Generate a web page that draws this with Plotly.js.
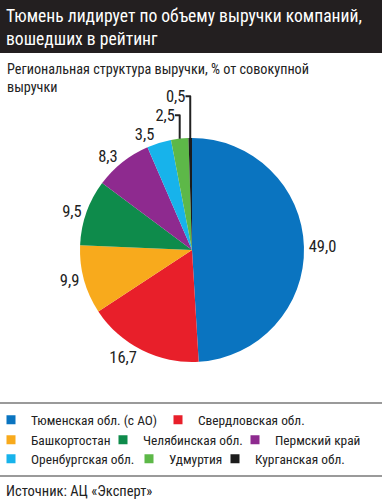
<!DOCTYPE html>
<html><head><meta charset="utf-8">
<script src="https://cdn.plot.ly/plotly-3.0.1.min.js"></script>
<style>body{margin:0;padding:0;background:#fff}#chart{width:382px;height:500px}</style>
</head><body><div id="chart"></div>
<script>
const categories = ["Тюменская обл. (с АО)", "Свердловская обл.", "Башкортостан", "Челябинская обл.", "Пермский край", "Оренбургская обл.", "Удмуртия", "Курганская обл."];
const values = [49.0, 16.7, 9.9, 9.5, 8.3, 3.5, 2.5, 0.5];
const colors = ["#0a74c0", "#e81f2a", "#f8aa1c", "#0e8b4b", "#8e2a8f", "#17b3eb", "#5db848", "#1c1c1c"];
const titleText = "Тюмень лидирует по объему выручки компаний,<br>вошедших в рейтинг";
const subtitleText = "Региональная структура выручки, % от совокупной<br>выручки";
const sourceText = "Источник: АЦ «Эксперт»";
const FONT = "Roboto Condensed";

const W = 382, H = 500;
const cx = 192, cy = 250, r = 112;

// legend entry placement (layout only): swatch centre x and row centre y, in px
const legendSymX = [9, 176, 9, 121, 253, 9, 147, 233];
const legendRowY = [420, 420, 440, 440, 440, 459, 459, 459];

const pie = {
  type: "pie",
  labels: categories,
  values: values,
  marker: {colors: colors, line: {width: 0}},
  sort: false,
  direction: "clockwise",
  rotation: 0,
  textposition: "outside",
  texttemplate: "%{value:.1f}",
  hoverinfo: "label+value",
  outsidetextfont: {family: FONT, size: 16.5, color: "#222"},
  automargin: false,
  showlegend: false,
  domain: {x: [(cx - r) / W, (cx + r) / W], y: [(H - cy - r) / H, (H - cy + r) / H]}
};

const legendKey = i => (i === 0 ? "legend" : "legend" + (i + 1));
const legendTraces = categories.map((c, i) => ({
  type: "scatter", mode: "markers", x: [null], y: [null], name: c,
  marker: {symbol: "square", size: 9, color: colors[i]},
  legend: legendKey(i), hoverinfo: "skip", showlegend: true
}));

const layout = {
  width: W, height: H,
  margin: {l: 0, r: 0, t: 0, b: 0, autoexpand: false},
  paper_bgcolor: "#fff", plot_bgcolor: "rgba(0,0,0,0)",
  separators: ",.",
  font: {family: FONT, color: "#222"},
  xaxis: {visible: false, domain: [0, 0.01]},
  yaxis: {visible: false, domain: [0, 0.01]},
  shapes: [
    {type: "rect", xref: "paper", yref: "paper", x0: 0, x1: 1, y0: 1 - 53 / H, y1: 1, fillcolor: "#231f20", line: {width: 0}, layer: "below"},
    {type: "line", xref: "paper", yref: "paper", x0: 0, x1: 1, y0: 1 - 403 / H, y1: 1 - 403 / H, line: {color: "#9a9a9a", width: 2}},
    {type: "line", xref: "paper", yref: "paper", x0: 0, x1: 1, y0: 1 - 476 / H, y1: 1 - 476 / H, line: {color: "#9a9a9a", width: 2}}
  ],
  annotations: [
    {text: titleText, xref: "paper", yref: "paper", x: 4 / W, y: 1 - 27 / H, xanchor: "left", yanchor: "middle", align: "left", showarrow: false, font: {family: FONT, size: 17.6, color: "#fff"}},
    {text: subtitleText, xref: "paper", yref: "paper", x: 5 / W, y: 1 - 78 / H, xanchor: "left", yanchor: "middle", align: "left", showarrow: false, font: {family: FONT, size: 14.2, color: "#222"}},
    {text: sourceText, xref: "paper", yref: "paper", x: 4 / W, y: 1 - 491 / H, xanchor: "left", yanchor: "middle", align: "left", showarrow: false, font: {family: FONT, size: 14.5, color: "#222"}}
  ]
};

categories.forEach((c, i) => {
  layout[legendKey(i)] = {
    orientation: "h", x: (legendSymX[i] - 18) / W, y: 1 - legendRowY[i] / H,
    xanchor: "left", yanchor: "middle",
    font: {family: FONT, size: 13.4, color: "#222"},
    itemwidth: 30, bgcolor: "rgba(0,0,0,0)", borderwidth: 0
  };
});

Plotly.newPlot("chart", [pie].concat(legendTraces), layout, {displayModeBar: false, staticPlot: true});
</script></body></html>
